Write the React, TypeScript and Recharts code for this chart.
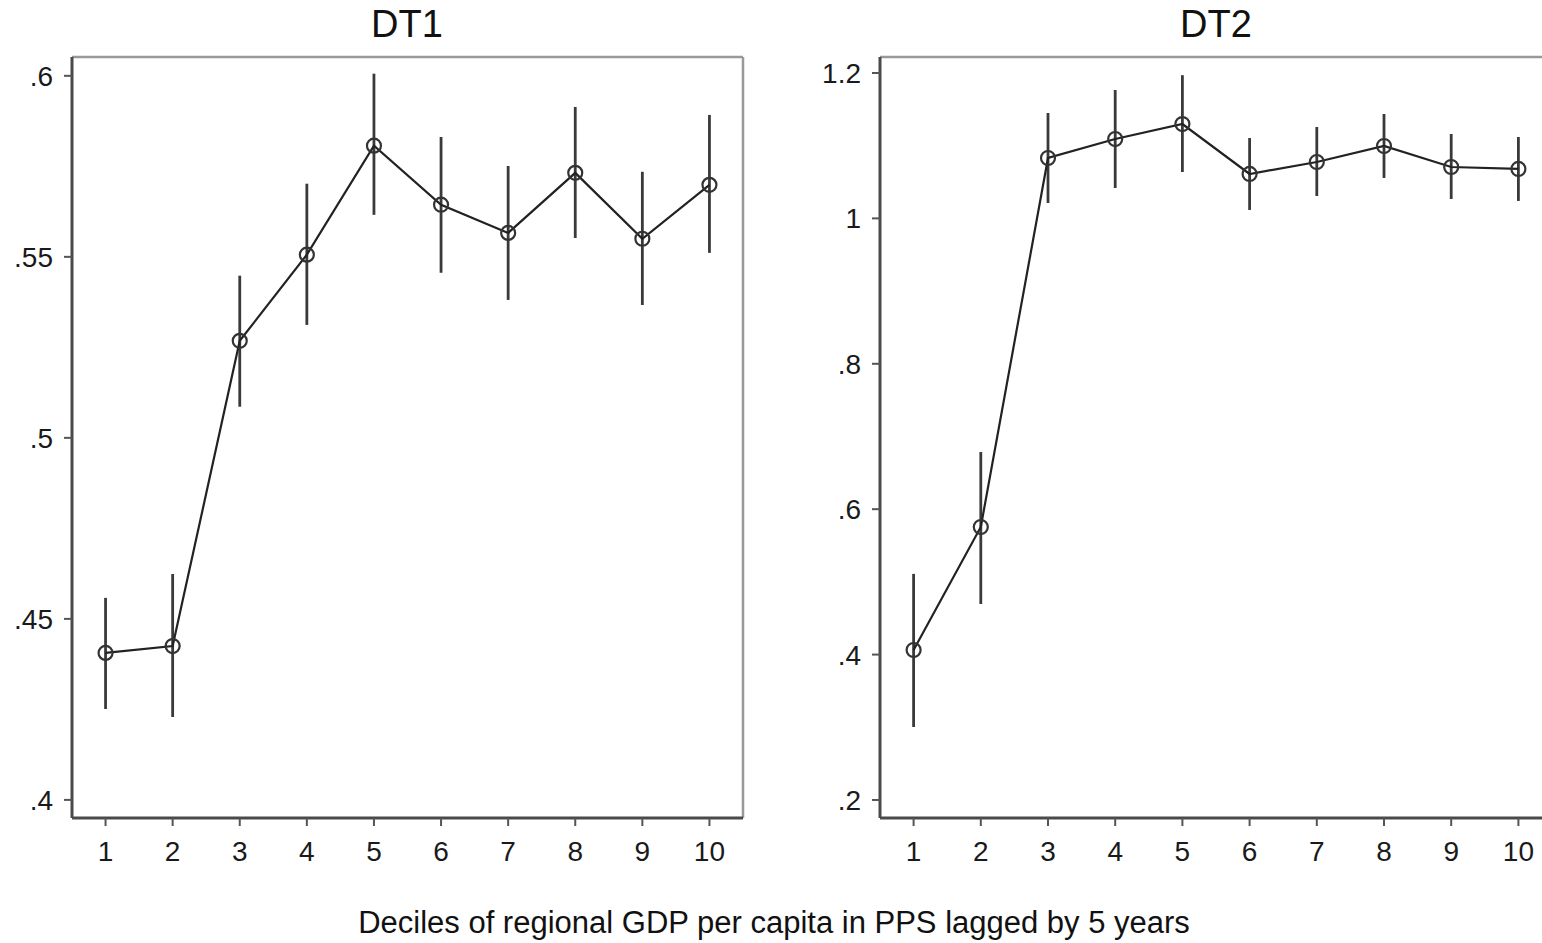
import { ComposedChart, Line, XAxis, YAxis, ErrorBar, ReferenceLine } from "recharts"

// deciles 1..10
const deciles = [1, 2, 3, 4, 5, 6, 7, 8, 9, 10]

// DT1 point estimates and 95% CI
const dt1 = [0.4406, 0.4425, 0.5268, 0.5506, 0.5807, 0.5644, 0.5566, 0.5732, 0.555, 0.5699]
const dt1Low = [0.4251, 0.4229, 0.5086, 0.5312, 0.5616, 0.5456, 0.5381, 0.5552, 0.5367, 0.5511]
const dt1High = [0.4558, 0.4624, 0.5448, 0.5702, 0.6006, 0.5831, 0.5751, 0.5914, 0.5735, 0.5892]

// DT2 point estimates and 95% CI
const dt2 = [0.4063, 0.5755, 1.0831, 1.1092, 1.1298, 1.0611, 1.0776, 1.0996, 1.0707, 1.068]
const dt2Low = [0.3004, 0.4696, 1.0212, 1.0418, 1.0638, 1.0116, 1.0308, 1.0556, 1.0267, 1.024]
const dt2High = [0.511, 0.6787, 1.145, 1.1766, 1.197, 1.1106, 1.1257, 1.1436, 1.1161, 1.112]

const dt1Ticks = [0.4, 0.45, 0.5, 0.55, 0.6]
const dt2Ticks = [0.2, 0.4, 0.6, 0.8, 1, 1.2]

const build = (y: number[], lo: number[], hi: number[]) =>
  deciles.map((d, i) => ({ x: d, y: y[i], err: [y[i] - lo[i], hi[i] - y[i]] }))

const fmt = (v: number) => String(v).replace(/^0\./, ".")

const font = "'Liberation Sans', Arial, sans-serif"

function Panel({ data, domain, ticks, width, yWidth, right }: any) {
  return (
    <ComposedChart
      width={width}
      height={943}
      data={data}
      margin={{ top: 57, right: right, left: 0, bottom: 65 }}
    >
      <XAxis
        dataKey="x"
        type="number"
        domain={[0.5, 10.5]}
        ticks={deciles}
        height={60}
        tickSize={8}
        tickMargin={15}
        axisLine={{ stroke: "#4a4a4a", strokeWidth: 3 }}
        tickLine={{ stroke: "#555", strokeWidth: 2 }}
        tick={{ fontSize: 28, fill: "#1a1a1a", fontFamily: font }}
      />
      <YAxis
        type="number"
        domain={domain}
        ticks={ticks}
        width={yWidth}
        tickSize={8}
        tickMargin={11}
        tickFormatter={fmt}
        allowDataOverflow
        axisLine={{ stroke: "#4a4a4a", strokeWidth: 3 }}
        tickLine={{ stroke: "#555", strokeWidth: 2 }}
        tick={{ fontSize: 28, fill: "#1a1a1a", fontFamily: font }}
      />
      <ReferenceLine y={domain[1]} stroke="#999" strokeWidth={2.5} ifOverflow="visible" />
      <ReferenceLine x={10.5} stroke="#999" strokeWidth={2.5} ifOverflow="visible" />
      <Line
        dataKey="y"
        stroke="#222"
        strokeWidth={2.2}
        isAnimationActive={false}
        dot={{ r: 7, fill: "none", stroke: "#333", strokeWidth: 2.2 }}
      >
        <ErrorBar dataKey="err" width={0} stroke="#3a3a3a" strokeWidth={2.8} direction="y" />
      </Line>
    </ComposedChart>
  )
}

export default function App() {
  return (
    <div style={{ position: "fixed", left: 0, top: 0, width: 1542, height: 943, overflow: "hidden", background: "#fff" }}>
      <div style={{ position: "absolute", left: 0, top: 0 }}>
        <Panel data={build(dt1, dt1Low, dt1High)} domain={[0.395, 0.6052]} ticks={dt1Ticks} width={800} yWidth={72} right={57} />
      </div>
      <div style={{ position: "absolute", left: 800, top: 0 }}>
        <Panel data={build(dt2, dt2Low, dt2High)} domain={[0.1752, 1.222]} ticks={dt2Ticks} width={760} yWidth={80} right={8} />
      </div>
      <svg width={1542} height={943} style={{ position: "absolute", left: 0, top: 0, pointerEvents: "none" }}>
        <text x={407} y={37} textAnchor="middle" fontSize={38} fontFamily={font} fill="#111">DT1</text>
        <text x={1216} y={37} textAnchor="middle" fontSize={38} fontFamily={font} fill="#111">DT2</text>
        <text x={774} y={933} textAnchor="middle" fontSize={31} fontFamily={font} fill="#111">
          Deciles of regional GDP per capita in PPS lagged by 5 years
        </text>
      </svg>
    </div>
  )
}
